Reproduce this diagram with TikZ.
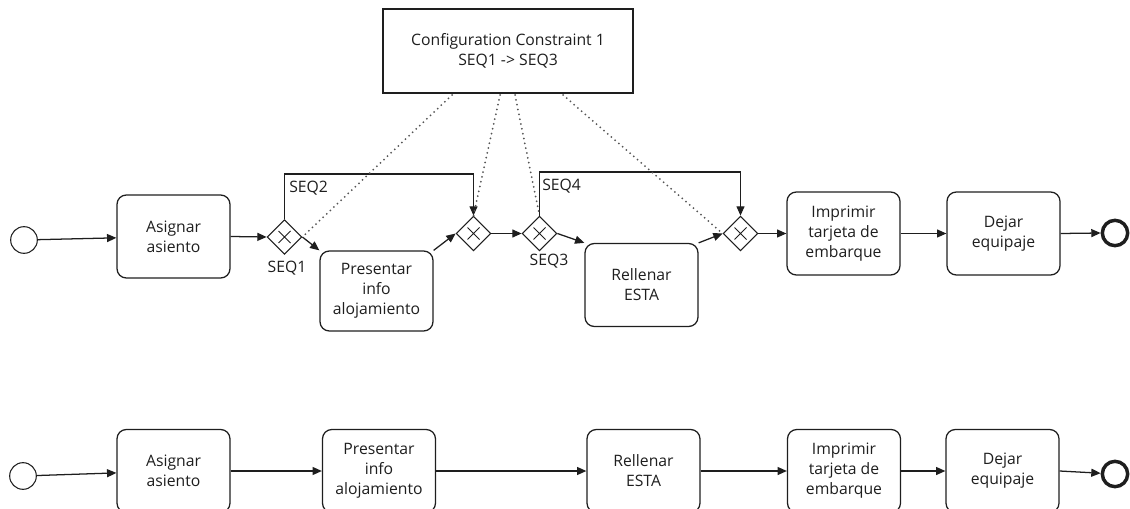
\documentclass[tikz,border=0pt]{standalone}
\usepackage{fontspec}
\setmainfont{Open Sans}
\usetikzlibrary{shapes.geometric,arrows.meta}
\definecolor{ink}{RGB}{30,30,30}
\definecolor{dotc}{RGB}{85,85,85}

\begin{document}
\begin{tikzpicture}[x=0.75pt,y=-0.75pt,
  every node/.style={font=\fontsize{11.8}{15}\selectfont, text=ink},
  task/.style={draw=ink, line width=0.95pt, rounded corners=7pt,
    minimum width=84.75pt, minimum height=62.25pt, align=center, inner sep=0pt},
  gateway/.style={draw=ink, line width=0.8pt, diamond, aspect=1, inner sep=0pt,
    minimum width=26pt, minimum height=26pt},
  startev/.style={draw=ink, line width=0.8pt, circle, inner sep=0pt, minimum size=20pt},
  endev/.style={draw=ink, line width=2.6pt, circle, inner sep=0pt, minimum size=19pt},
  note/.style={draw=ink, line width=0.95pt, minimum width=187.5pt, minimum height=63pt,
    align=center, inner sep=0pt},
  flow/.style={draw=ink, line width=0.95pt, -{Triangle[length=7pt,width=6pt]}},
  seqline/.style={draw=ink, line width=0.95pt},
  assoc/.style={draw=dotc, line width=1.5pt, line cap=round, dash pattern=on 0pt off 3.7pt},
  xmark/.style={draw=ink, line width=0.6pt},
  seqlab/.style={inner sep=0pt}
]
\useasboundingbox (0,0) rectangle (1130,509);

% ---------- configurable process ----------
\node[note] (cfg) at (508,51) {Configuration Constraint 1\\SEQ1 -> SEQ3};

\node[startev] (s1) at (24,240) {};
\node[task] (a1) at (173.5,236.5) {Asignar\\asiento};
\node[gateway] (g1) at (284.5,237) {};
\node[task, minimum height=60pt] (p1) at (376.5,291) {Presentar\\info\\alojamiento};
\node[gateway] (g2) at (473.5,233.5) {};
\node[gateway] (g3) at (539.5,233.5) {};
\node[task] (r1) at (641.5,285) {Rellenar\\ESTA};
\node[gateway] (g4) at (740.5,233.5) {};
\node[task] (i1) at (843.5,233.5) {Imprimir\\tarjeta de\\embarque};
\node[task] (d1) at (1003.5,233.5) {Dejar\\equipaje};
\node[endev] (e1) at (1115,233) {};

\foreach \g in {g1,g2,g3,g4}
  \draw[xmark] (\g.center) +(-6,-6) -- +(6,6) +(-6,6) -- +(6,-6);

\coordinate (c2) at (473.5,174);
\coordinate (c4) at (740.5,172);

\draw[flow] (s1) -- (a1);
\draw[flow] (a1.east) -- (g1.west);
\draw[seqline] (g1.north) |- (c2);
\draw[flow] (c2) -- (g2.north);
\draw[flow] (g1.east) -- (p1.north west);
\draw[flow] (p1.north east) -- (g2.west);
\draw[flow] (g2.east) -- (g3.west);
\draw[seqline] (g3.north) |- (c4);
\draw[flow] (c4) -- (g4.north);
\draw[flow] (g3.east) -- (r1.north west);
\draw[flow] (r1.north east) -- (g4.west);
\draw[flow] (g4.east) -- (i1.west);
\draw[flow] (i1.east) -- (d1.west);
\draw[flow] (d1.east) -- (e1.west);

\node[seqlab] (l1) at (287,268) {SEQ1};
\node[seqlab, anchor=west] (l2) at (289,188) {SEQ2};
\node[seqlab] (l3) at (549,261) {SEQ3};
\node[seqlab, anchor=west] (l4) at (542,186) {SEQ4};

% associations from the constraint note
\coordinate (k1) at (452,95);
\coordinate (k2) at (500,95);
\coordinate (k3) at (515,95);
\coordinate (k4) at (563,95);
\draw[assoc] (k1) -- (g1.east);
\draw[assoc] (k2) -- (g2.north);
\draw[assoc] (k3) -- (g3.north);
\draw[assoc] (k4) -- (g4.west);

% ---------- derived process ----------
\node[startev] (s2) at (23,476) {};
\node[task] (a2) at (173.5,471) {Asignar\\asiento};
\node[task] (p2) at (379,471) {Presentar\\info\\alojamiento};
\node[task] (r2) at (643.5,471) {Rellenar\\ESTA};
\node[task] (i2) at (844,471) {Imprimir\\tarjeta de\\embarque};
\node[task] (d2) at (1002.5,471) {Dejar\\equipaje};
\node[endev] (e2) at (1115,474) {};

\draw[flow] (s2) -- (a2);
\draw[flow] (a2.east) -- (p2.west);
\draw[flow] (p2.east) -- (r2.west);
\draw[flow] (r2.east) -- (i2.west);
\draw[flow] (i2.east) -- (d2.west);
\draw[flow] (d2.east) -- (e2);
\end{tikzpicture}
\end{document}
